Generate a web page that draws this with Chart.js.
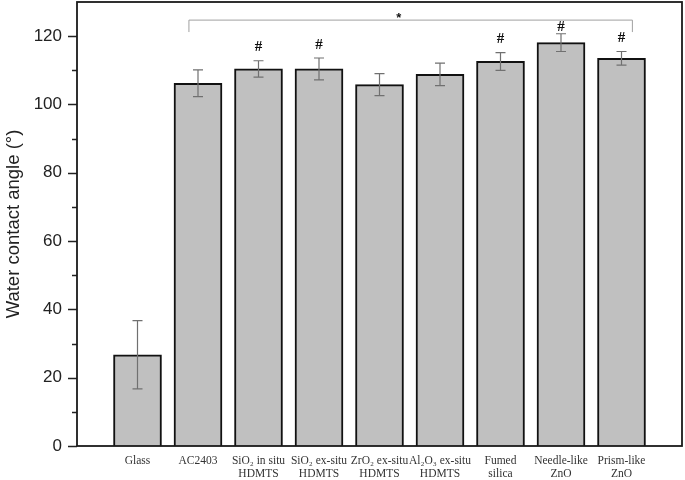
<!DOCTYPE html>
<html>
<head>
<meta charset="utf-8">
<script src="https://cdn.jsdelivr.net/npm/chart.js@4.4.1/dist/chart.umd.min.js"></script>
<style>
    html, body { margin: 0; padding: 0; background: #fff; }
    #wrap { width: 685px; height: 480px; position: relative; }
</style>
</head>
<body>
<div id="wrap"><canvas id="chartMain"></canvas></div>
<script>
const categories = ['Glass', 'AC2403', 'SiO2 in situ', 'SiO2 ex-situ', 'ZrO2 ex-situ', 'Al2O3 ex-situ', 'Fumed silica', 'Needle-like ZnO', 'Prism-like ZnO'];
const tickLabels = [
    ['Glass'],
    ['AC2403'],
    ['SiO₂ in situ', 'HDMTS'],
    ['SiO₂ ex-situ', 'HDMTS'],
    ['ZrO₂ ex-situ', 'HDMTS'],
    ['Al₂O₃ ex-situ', 'HDMTS'],
    ['Fumed', 'silica'],
    ['Needle-like', 'ZnO'],
    ['Prism-like', 'ZnO']
];
const means = [26.7, 106.2, 110.4, 110.4, 105.8, 108.8, 112.6, 118.1, 113.5];
const errors = [10.0, 3.9, 2.4, 3.2, 3.2, 3.3, 2.6, 2.6, 2.0];
// '#' marks: y position of each mark, null = none
const hashMarks = [null, null, 116.9, 117.4, null, null, 119.1, 122.6, 119.3];
const yMajorTicks = [0, 20, 40, 60, 80, 100, 120];
const yMinorTicks = [10, 30, 50, 70, 90, 110];
// significance bracket: x from / to, y top / y legs, star x
const bracket = { x0: 1.85, x1: 9.18, yTop: 124.7, yLeg: 121.2, starX: 5.32 };

const annotations = {
    id: 'annotations',
    afterDatasetsDraw(chart) {
        const { ctx, chartArea: a, scales: { x, y } } = chart;
        ctx.save();
        // error bars
        ctx.strokeStyle = '#707070';
        ctx.lineWidth = 1.2;
        means.forEach((m, i) => {
            const px = x.getPixelForValue(i + 1);
            const top = y.getPixelForValue(m + errors[i]);
            const bot = y.getPixelForValue(m - errors[i]);
            ctx.beginPath();
            ctx.moveTo(px, top); ctx.lineTo(px, bot);
            ctx.moveTo(px - 5, top); ctx.lineTo(px + 5, top);
            ctx.moveTo(px - 5, bot); ctx.lineTo(px + 5, bot);
            ctx.stroke();
        });
        // # marks
        ctx.fillStyle = '#111';
        ctx.font = 'bold 15px "Liberation Serif", serif';
        ctx.textAlign = 'center';
        ctx.textBaseline = 'middle';
        hashMarks.forEach((h, i) => {
            if (h === null) return;
            ctx.fillText('#', x.getPixelForValue(i + 1), y.getPixelForValue(h));
        });
        // bracket
        ctx.strokeStyle = '#a0a0a0';
        ctx.lineWidth = 1;
        const bx0 = x.getPixelForValue(bracket.x0), bx1 = x.getPixelForValue(bracket.x1);
        const byT = y.getPixelForValue(bracket.yTop), byL = y.getPixelForValue(bracket.yLeg);
        ctx.beginPath();
        ctx.moveTo(bx0, byL); ctx.lineTo(bx0, byT); ctx.lineTo(bx1, byT); ctx.lineTo(bx1, byL);
        ctx.stroke();
        ctx.font = 'bold 13px "Liberation Sans", sans-serif';
        ctx.fillText('*', x.getPixelForValue(bracket.starX), byT - 2);
        // y tick marks
        ctx.strokeStyle = '#222';
        ctx.lineWidth = 1.5;
        ctx.beginPath();
        yMajorTicks.forEach(v => {
            const py = Math.round(y.getPixelForValue(v)) + 0.5;
            ctx.moveTo(a.left - 9, py); ctx.lineTo(a.left, py);
        });
        yMinorTicks.forEach(v => {
            const py = Math.round(y.getPixelForValue(v)) + 0.5;
            ctx.moveTo(a.left - 5, py); ctx.lineTo(a.left, py);
        });
        ctx.stroke();
        // frame
        ctx.strokeStyle = '#1a1a1a';
        ctx.lineWidth = 1.8;
        ctx.strokeRect(a.left, a.top, a.right - a.left, a.bottom - a.top);
        ctx.restore();
    }
};

new Chart(document.getElementById('chartMain'), {
    type: 'bar',
    data: {
        datasets: [{
            data: means.map((m, i) => ({ x: i + 1, y: m })),
            backgroundColor: '#c0c0c0',
            borderColor: '#111',
            borderWidth: 2,
            barThickness: 48
        }]
    },
    options: {
        responsive: true, maintainAspectRatio: false,
        animation: false,
        layout: { padding: { left: 0, right: 3, top: 2, bottom: 0 } },
        plugins: { legend: { display: false }, tooltip: { enabled: false } },
        scales: {
            x: {
                type: 'linear', min: 0, max: 10, offset: false,
                grid: { display: false, drawTicks: false, offset: false },
                border: { display: false },
                afterBuildTicks: s => { s.ticks = categories.map((_, i) => ({ value: i + 1 })); },
                afterFit: s => { s.height = 34; s.paddingLeft = 0; s.paddingRight = 0; },
                ticks: {
                    autoSkip: false, maxRotation: 0, padding: 8,
                    color: '#333',
                    font: { family: '"Liberation Serif", serif', size: 11.5, lineHeight: 1.15 },
                    callback: v => tickLabels[v - 1]
                }
            },
            y: {
                min: 0, max: 130,
                grid: { display: false, drawTicks: false },
                border: { display: false },
                afterBuildTicks: s => { s.ticks = yMajorTicks.map(v => ({ value: v })); },
                afterFit: s => { s.width = 77; s.paddingTop = 0; s.paddingBottom = 0; },
                ticks: {
                    padding: 15, color: '#222',
                    font: { family: '"Liberation Sans", Arial, sans-serif', size: 17 }
                },
                title: {
                    display: true, text: 'Water contact angle (°)',
                    color: '#222', padding: { top: 3, bottom: 0 },
                    font: { family: '"Liberation Sans", Arial, sans-serif', size: 18.5 }
                }
            }
        }
    },
    plugins: [annotations]
});
</script>
</body>
</html>
